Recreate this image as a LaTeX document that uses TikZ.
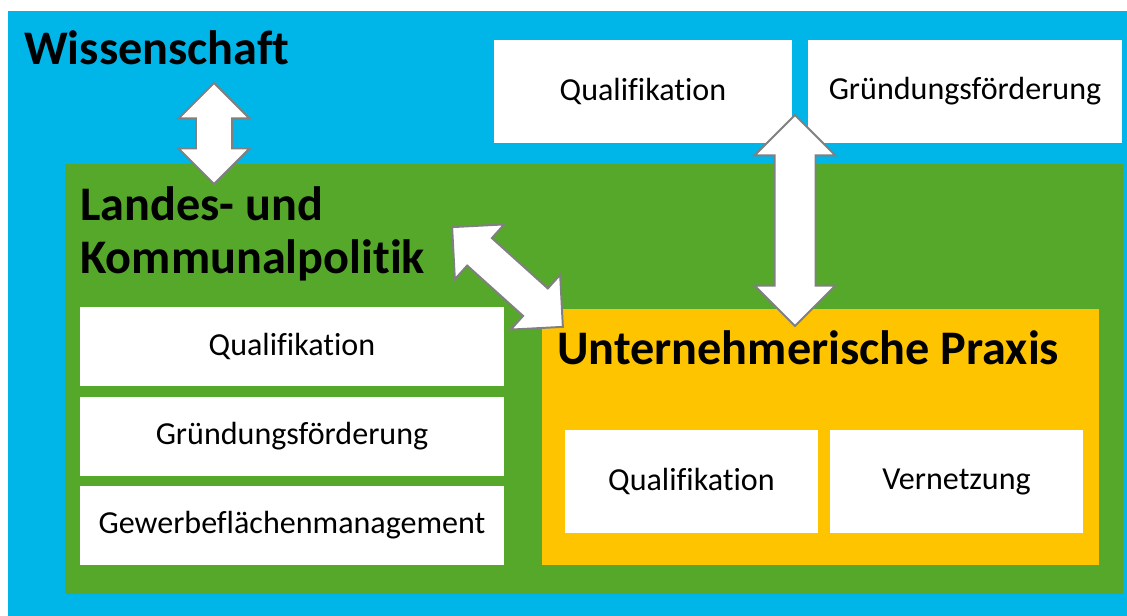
\documentclass[tikz,border=0pt]{standalone}
\usepackage{fontspec}
\setmainfont{Carlito}[Ligatures=NoCommon]
\usetikzlibrary{positioning,fit,shapes.arrows}
\definecolor{wissblau}{HTML}{00B5E8}
\definecolor{politikgruen}{HTML}{56A82A}
\definecolor{praxisgelb}{HTML}{FFC400}
\definecolor{pfeilgrau}{HTML}{808080}

\begin{document}
\begin{tikzpicture}[x=0.025cm, y=-0.025cm,
    feld/.style={inner sep=0pt, outer sep=0pt},
    wbox/.style={feld, fill=white, font=\fontsize{22.8}{27}\selectfont},
    linksbox/.style={wbox, minimum width=10.6cm, minimum height=1.975cm},
    praxisbox/.style={wbox, minimum width=6.325cm, minimum height=2.575cm},
    titel/.style={inner sep=0pt, font=\fontsize{34.3}{37.9}\selectfont\bfseries, align=left},
    pfeil/.style={double arrow, draw=pfeilgrau, fill=white, line width=1.4pt, inner sep=0pt, minimum width=0pt}]
    \useasboundingbox (0,0) rectangle (1127,616);
    % Ebenen
    \node[feld, fill=wissblau, fit={(8,11) (1127,616)}] (wiss) {};
    \node[feld, fill=politikgruen, fit={(65,164) (1123,594)}] (politik) {};
    \node[feld, fill=praxisgelb, fit={(542,309) (1099,565)}] (praxis) {};
    % Titel
    \node[titel, anchor=base west] (wisstitel) at (24,65) {Wissenschaft};
    \node[titel, anchor=north west] (poltitel) at (80,186) {Landes- und\\Kommunalpolitik};
    \node[titel, anchor=base west] (praxistitel) at (557,365) {Unternehmerische Praxis};
    % Kaesten
    \node[wbox, minimum width=7.45cm, minimum height=2.575cm] (wq) at (643,91.5) {Qualifikation};
    \node[wbox, minimum width=7.85cm, minimum height=2.575cm] (wg) at (965,91.5) {Gründungsförderung};
    \node[linksbox] (pq) at (292,346.5) {Qualifikation};
    \node[linksbox, below=0.275cm of pq] (pg) {Gründungsförderung};
    \node[linksbox, below=0.25cm of pg] (pm) {Gewerbeflächenmanagement};
    \node[praxisbox] (uq) at (691.5,481.5) {Qualifikation};
    \node[praxisbox, right=0.3cm of uq] (uv) {Vernetzung};
    % Pfeile
    \node[pfeil, rotate=90, minimum height=2.525cm, inner ysep=0.425cm,
        double arrow head extend=0.4375cm] (wp) at (214,133.5) {};
    \node[pfeil, rotate=90, minimum height=5.275cm, inner ysep=0.4875cm,
        double arrow head extend=0.5cm] (wu) at (795,220.5) {};
    \node[pfeil, rotate=-42, minimum height=3.725cm, inner ysep=0.4375cm,
        double arrow head extend=0.46cm] (pu) at (507.5,277) {};
\end{tikzpicture}
\end{document}
